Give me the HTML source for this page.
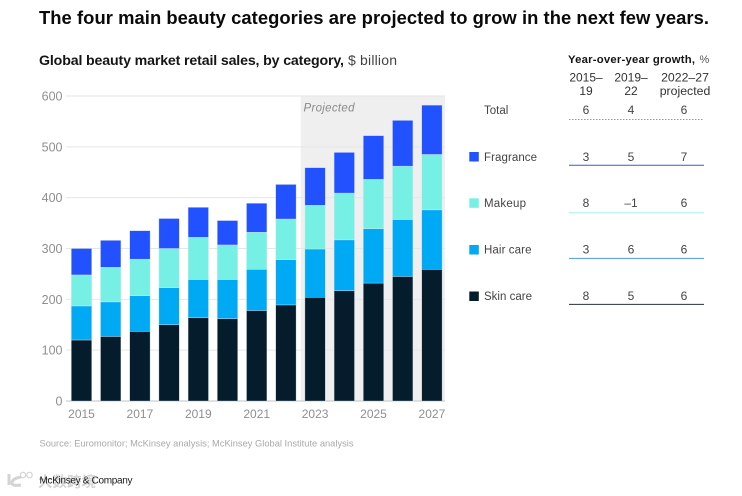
<!DOCTYPE html>
<html lang="en">
<head>
<meta charset="utf-8">
<title>Global beauty market retail sales</title>
<style>
html,body{margin:0;padding:0;background:#fff;width:742px;height:496px;overflow:hidden}
svg{display:block}
text{font-family:"Liberation Sans","Noto Sans CJK SC",sans-serif}
</style>
</head>
<body>
<svg id="chart" xmlns="http://www.w3.org/2000/svg" width="742" height="496" viewBox="0 0 742 496">
  <text x="39" y="24" font-size="18.4" font-weight="700" fill="#0a0a0a" textLength="670" lengthAdjust="spacing">The four main beauty categories are projected to grow in the next few years.</text>
  <text x="39" y="65" font-size="14.2" font-weight="700" fill="#151515" textLength="305" lengthAdjust="spacing">Global beauty market retail sales, by category,</text>
  <text x="348" y="65" font-size="14" fill="#444" textLength="49" lengthAdjust="spacing">$ billion</text>

  <rect x="300.7" y="96" width="144.3" height="305" fill="#efefef"/>
  <g id="grid"></g>
  <text x="303.5" y="111.5" font-size="11.5" font-style="italic" fill="#8a8a8a" textLength="51" lengthAdjust="spacing">Projected</text>
  <g id="bars"></g>
  <g id="yticks"></g>
  <g id="xticks"></g>

  <text x="568" y="63" font-size="11.3" font-weight="700" fill="#151515" textLength="127" lengthAdjust="spacing">Year-over-year growth,</text>
  <text x="699.5" y="63" font-size="11" fill="#555">%</text>
  <text font-size="12" fill="#333" text-anchor="middle"><tspan x="586" y="81.5">2015–</tspan><tspan x="586" y="95">19</tspan></text>
  <text font-size="12" fill="#333" text-anchor="middle"><tspan x="631" y="81.5">2019–</tspan><tspan x="631" y="95">22</tspan></text>
  <text font-size="12.3" fill="#333" text-anchor="middle"><tspan x="685" y="81.5">2022–27</tspan><tspan x="685" y="95">projected</tspan></text>

  <g>
    <text x="484" y="114" font-size="11.5" fill="#444">Total</text>
    <text x="586" y="114" font-size="12" fill="#444" text-anchor="middle">6</text>
    <text x="631" y="114" font-size="12" fill="#444" text-anchor="middle">4</text>
    <text x="684" y="114" font-size="12" fill="#444" text-anchor="middle">6</text>
    <line x1="569" x2="704" y1="119.5" y2="119.5" stroke="#999" stroke-width="1" stroke-dasharray="1.5 1.5"/>
  </g>
  <g>
    <rect x="469.3" y="152" width="9.5" height="9.5" fill="#2251ff"/>
    <text x="484" y="161" font-size="11.5" fill="#444" textLength="53" lengthAdjust="spacing">Fragrance</text>
    <text x="586" y="161" font-size="12" fill="#444" text-anchor="middle">3</text>
    <text x="631" y="161" font-size="12" fill="#444" text-anchor="middle">5</text>
    <text x="684" y="161" font-size="12" fill="#444" text-anchor="middle">7</text>
    <line x1="569" x2="704" y1="165.3" y2="165.3" stroke="#2f62c8" stroke-width="1"/>
  </g>
  <g>
    <rect x="469.3" y="198.3" width="9.5" height="9.5" fill="#76f0e4"/>
    <text x="484" y="207" font-size="11.5" fill="#444" textLength="42" lengthAdjust="spacing">Makeup</text>
    <text x="586" y="207" font-size="12" fill="#444" text-anchor="middle">8</text>
    <text x="631" y="207" font-size="12" fill="#444" text-anchor="middle">–1</text>
    <text x="684" y="207" font-size="12" fill="#444" text-anchor="middle">6</text>
    <line x1="569" x2="704" y1="212.7" y2="212.7" stroke="#c5f4ef" stroke-width="1.6"/>
  </g>
  <g>
    <rect x="469.3" y="245" width="9.5" height="9.5" fill="#00a9f4"/>
    <text x="484" y="253.5" font-size="11.5" fill="#444" textLength="47.5" lengthAdjust="spacing">Hair care</text>
    <text x="586" y="253.5" font-size="12" fill="#444" text-anchor="middle">3</text>
    <text x="631" y="253.5" font-size="12" fill="#444" text-anchor="middle">6</text>
    <text x="684" y="253.5" font-size="12" fill="#444" text-anchor="middle">6</text>
    <line x1="569" x2="704" y1="258.4" y2="258.4" stroke="#4b9fd0" stroke-width="1"/>
  </g>
  <g>
    <rect x="469.3" y="291.5" width="9.5" height="9.5" fill="#051c2c"/>
    <text x="484" y="300" font-size="11.5" fill="#444" textLength="48" lengthAdjust="spacing">Skin care</text>
    <text x="586" y="300" font-size="12" fill="#444" text-anchor="middle">8</text>
    <text x="631" y="300" font-size="12" fill="#444" text-anchor="middle">5</text>
    <text x="684" y="300" font-size="12" fill="#444" text-anchor="middle">6</text>
    <line x1="569" x2="704" y1="304.4" y2="304.4" stroke="#2a3238" stroke-width="1"/>
  </g>

  <text x="39.5" y="446.5" font-size="9.3" fill="#a8a8a8" textLength="314" lengthAdjust="spacing">Source: Euromonitor; McKinsey analysis; McKinsey Global Institute analysis</text>
  <text x="38" y="487" font-size="14.5" font-weight="700" fill="#d4d4d4" textLength="58" lengthAdjust="spacing">大数跨境</text>
  <circle cx="23" cy="475" r="2.7" fill="none" stroke="#d4d4d4" stroke-width="1.2"/>
  <circle cx="29.5" cy="475" r="2.7" fill="none" stroke="#d4d4d4" stroke-width="1.2"/>
  <path d="M9 474v11M21 477c-6 1-9 3-9 6 0 2 3 3 9 2" fill="none" stroke="#d4d4d4" stroke-width="3"/>
  <text x="39.5" y="483.5" font-size="10" fill="#1a1a1a" textLength="93" lengthAdjust="spacing">McKinsey &amp; Company</text>
</svg>
<script>
const years = [2015,2016,2017,2018,2019,2020,2021,2022,2023,2024,2025,2026,2027];
const skinCare = [120,127,137,150,164,162,178,189,204,217,232,245,259];
const hairCare = [67,68,70,73,75,77,81,89,95,100,107,112,117];
const makeup = [61,68,72,77,83,68,73,80,86,92,97,105,109];
const fragrance = [52,53,56,59,59,48,57,68,74,80,86,90,97];
const yTickValues = [0,100,200,300,400,500,600];
const xTickLabels = [2015,2017,2019,2021,2023,2025,2027];

const NS = 'http://www.w3.org/2000/svg';
function yScale(v){ return 401 - (v / 600) * 305; }
function xScale(year){ return 71.3 + (year - years[0]) * 29.2; }
const BAR_W = 20.4;

const gridG = document.getElementById('grid');
const yG = document.getElementById('yticks');
const xG = document.getElementById('xticks');
const barsG = document.getElementById('bars');

yTickValues.forEach(function(v){
  const line = document.createElementNS(NS, 'line');
  
  
  line.setAttribute('x1', 66);
  line.setAttribute('x2', 445);
  line.setAttribute('y1', yScale(v));
  line.setAttribute('y2', yScale(v));
  line.setAttribute('stroke', v === 0 ? '#cfcfcf' : '#e6e6e6');
  line.setAttribute('stroke-width', v === 0 ? 1.2 : 1);
  gridG.appendChild(line);

  const label = document.createElementNS(NS, 'text');
  
  
  label.setAttribute('x', 62.5);
  label.setAttribute('y', yScale(v) + 4.5);
  label.setAttribute('font-size', 12.5);
  label.setAttribute('fill', '#8f8f8f');
  label.setAttribute('text-anchor', 'end');
  label.textContent = v;
  yG.appendChild(label);
});

xTickLabels.forEach(function(y){
  const label = document.createElementNS(NS, 'text');
  
  
  label.setAttribute('x', xScale(y) + BAR_W / 2);
  label.setAttribute('y', 418);
  label.setAttribute('font-size', 12);
  label.setAttribute('fill', '#8f8f8f');
  label.setAttribute('text-anchor', 'middle');
  label.textContent = y;
  xG.appendChild(label);
});

const seriesNames = ['skin-care','hair-care','makeup','fragrance'];
const seriesValues = [skinCare, hairCare, makeup, fragrance];
const seriesColors = ['#051c2c','#00a9f4','#76f0e4','#2251ff'];

years.forEach(function(year, i){
  let base = 0;
  seriesValues.forEach(function(vals, s){
    const top = base + vals[i];
    const r = document.createElementNS(NS, 'rect');
    
    
    r.setAttribute('x', xScale(year));
    r.setAttribute('y', yScale(top));
    r.setAttribute('width', BAR_W);
    r.setAttribute('height', yScale(base) - yScale(top));
    r.setAttribute('fill', seriesColors[s]);
    r.setAttribute('stroke', '#dfe8f2');
    r.setAttribute('stroke-opacity', '0.7');
    r.setAttribute('stroke-width', '0.5');
    barsG.appendChild(r);
    base = top;
  });
});
</script>
</body>
</html>
